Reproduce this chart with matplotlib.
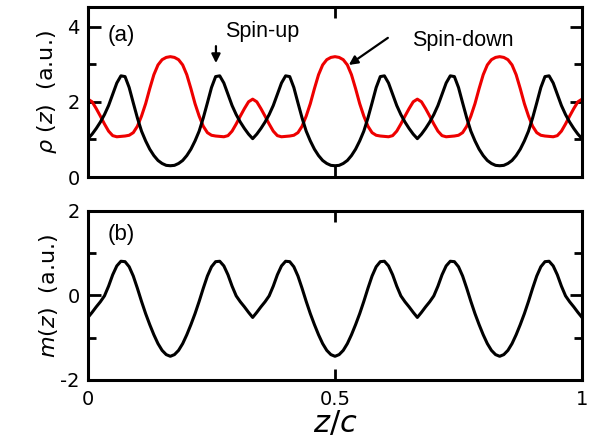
import matplotlib
matplotlib.use("Agg")
import matplotlib.pyplot as plt
import numpy as np

plt.rcParams['axes.unicode_minus'] = False
plt.rcParams['font.family'] = 'DejaVu Sans'

# sample positions along the cell, z/c
z = np.arange(121) / 120

# spin-up density (black)
rho_up = [
    1.02, 1.14, 1.29, 1.46, 1.66, 1.90, 2.20, 2.50, 2.69, 2.67,
    2.38, 1.97, 1.57, 1.22, 0.96, 0.74, 0.57, 0.44, 0.36, 0.31,
    0.30, 0.31, 0.36, 0.44, 0.57, 0.74, 0.96, 1.22, 1.57, 1.97,
    2.38, 2.67, 2.69, 2.50, 2.20, 1.90, 1.66, 1.46, 1.29, 1.14,
    1.02, 1.14, 1.29, 1.46, 1.66, 1.90, 2.20, 2.50, 2.69, 2.67,
    2.38, 1.97, 1.57, 1.22, 0.96, 0.74, 0.57, 0.44, 0.36, 0.31,
    0.30, 0.31, 0.36, 0.44, 0.57, 0.74, 0.96, 1.22, 1.57, 1.97,
    2.38, 2.67, 2.69, 2.50, 2.20, 1.90, 1.66, 1.46, 1.29, 1.14,
    1.02, 1.14, 1.29, 1.46, 1.66, 1.90, 2.20, 2.50, 2.69, 2.67,
    2.38, 1.97, 1.57, 1.22, 0.96, 0.74, 0.57, 0.44, 0.36, 0.31,
    0.30, 0.31, 0.36, 0.44, 0.57, 0.74, 0.96, 1.22, 1.57, 1.97,
    2.38, 2.67, 2.69, 2.50, 2.20, 1.90, 1.66, 1.46, 1.29, 1.14,
    1.02,
]

# spin-down density (red)
rho_down = [
    2.07, 2.00, 1.82, 1.62, 1.41, 1.22, 1.10, 1.07, 1.08, 1.09,
    1.11, 1.18, 1.35, 1.62, 1.95, 2.35, 2.72, 2.98, 3.12, 3.18,
    3.20, 3.18, 3.12, 2.98, 2.72, 2.35, 1.95, 1.62, 1.35, 1.18,
    1.11, 1.09, 1.08, 1.07, 1.10, 1.22, 1.41, 1.62, 1.82, 2.00,
    2.07, 2.00, 1.82, 1.62, 1.41, 1.22, 1.10, 1.07, 1.08, 1.09,
    1.11, 1.18, 1.35, 1.62, 1.95, 2.35, 2.72, 2.98, 3.12, 3.18,
    3.20, 3.18, 3.12, 2.98, 2.72, 2.35, 1.95, 1.62, 1.35, 1.18,
    1.11, 1.09, 1.08, 1.07, 1.10, 1.22, 1.41, 1.62, 1.82, 2.00,
    2.07, 2.00, 1.82, 1.62, 1.41, 1.22, 1.10, 1.07, 1.08, 1.09,
    1.11, 1.18, 1.35, 1.62, 1.95, 2.35, 2.72, 2.98, 3.12, 3.18,
    3.20, 3.18, 3.12, 2.98, 2.72, 2.35, 1.95, 1.62, 1.35, 1.18,
    1.11, 1.09, 1.08, 1.07, 1.10, 1.22, 1.41, 1.62, 1.82, 2.00,
    2.07,
]

# magnetization density
m = [
    -0.52, -0.40, -0.27, -0.15, -0.01, 0.22, 0.49, 0.70, 0.81, 0.80,
    0.68, 0.46, 0.17, -0.14, -0.43, -0.69, -0.93, -1.14, -1.30, -1.40,
    -1.44, -1.40, -1.30, -1.14, -0.93, -0.69, -0.43, -0.14, 0.17, 0.46,
    0.68, 0.80, 0.81, 0.70, 0.49, 0.22, -0.01, -0.15, -0.27, -0.40,
    -0.52, -0.40, -0.27, -0.15, -0.01, 0.22, 0.49, 0.70, 0.81, 0.80,
    0.68, 0.46, 0.17, -0.14, -0.43, -0.69, -0.93, -1.14, -1.30, -1.40,
    -1.44, -1.40, -1.30, -1.14, -0.93, -0.69, -0.43, -0.14, 0.17, 0.46,
    0.68, 0.80, 0.81, 0.70, 0.49, 0.22, -0.01, -0.15, -0.27, -0.40,
    -0.52, -0.40, -0.27, -0.15, -0.01, 0.22, 0.49, 0.70, 0.81, 0.80,
    0.68, 0.46, 0.17, -0.14, -0.43, -0.69, -0.93, -1.14, -1.30, -1.40,
    -1.44, -1.40, -1.30, -1.14, -0.93, -0.69, -0.43, -0.14, 0.17, 0.46,
    0.68, 0.80, 0.81, 0.70, 0.49, 0.22, -0.01, -0.15, -0.27, -0.40,
    -0.52,
]

fig = plt.figure(figsize=(5.97, 4.47), dpi=100)
ax1 = fig.add_axes([0.1474, 0.604, 0.8275, 0.3803])
ax2 = fig.add_axes([0.1474, 0.150, 0.8275, 0.378])


def style_axes(ax):
    for sp in ax.spines.values():
        sp.set_linewidth(2.2)
    ax.set_xlim(0, 1)
    ax.set_xticks([0, 0.5, 1])
    ax.tick_params(which='both', direction='in', top=True, right=True,
                   width=2.0, labelsize=14, pad=6)
    ax.tick_params(which='major', length=9)
    ax.tick_params(which='minor', length=6)
    ax.tick_params(axis='x', which='major', length=8, pad=7)


# (a) spin densities
ax1.plot(z, rho_down, color='#ee0000', lw=2.2, solid_joinstyle='round')
ax1.plot(z, rho_up, color='black', lw=2.2, solid_joinstyle='round')
style_axes(ax1)
ax1.set_ylim(0, 4.52)
ax1.set_yticks([0, 2, 4])
ax1.set_yticks([1, 3], minor=True)
ax1.set_xticklabels([])
ax1.set_ylabel(r'$\rho\ (z)$  (a.u.)', fontsize=16, labelpad=6)
ax1.text(0.040, 3.75, '(a)', fontsize=16, family='Liberation Sans', va='center')
ax1.text(0.277, 3.72, 'Spin-up', fontsize=15.5, family='Liberation Sans')
ax1.text(0.655, 3.48, 'Spin-down', fontsize=15.5, family='Liberation Sans')
ax1.annotate('', xy=(0.259, 3.03), xytext=(0.259, 3.48),
             arrowprops=dict(arrowstyle='-|>', color='black', lw=1.6,
                             mutation_scale=13, shrinkA=0, shrinkB=0))
ax1.annotate('', xy=(0.528, 2.98), xytext=(0.607, 3.70),
             arrowprops=dict(arrowstyle='-|>', color='black', lw=1.6,
                             mutation_scale=13, shrinkA=0, shrinkB=0))

# (b) magnetization
ax2.plot(z, m, color='black', lw=2.2, solid_joinstyle='round')
style_axes(ax2)
ax2.set_ylim(-2, 2)
ax2.set_yticks([-2, 0, 2])
ax2.set_yticks([-1, 1], minor=True)
ax2.set_xticklabels(['0', '0.5', '1'])
ax2.set_ylabel(r'$m(z)$  (a.u.)', fontsize=16, labelpad=0)
ax2.set_xlabel(r'$z/c$', fontsize=22, labelpad=0)
ax2.text(0.040, 1.44, '(b)', fontsize=16, family='Liberation Sans', va='center')

fig.savefig('out.png', dpi=100)
